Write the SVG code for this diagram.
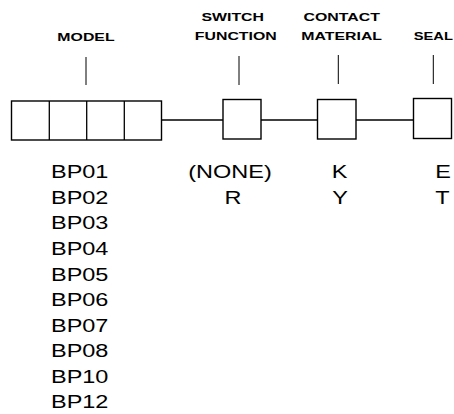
<svg xmlns="http://www.w3.org/2000/svg" width="454" height="414" viewBox="0 0 454 414">
<style>
.box{fill:#fff;stroke:#000;stroke-width:1.4}
.ln{stroke:#000;stroke-width:1.3;fill:none}
.tk{stroke:#000;stroke-width:1}
.hd{font-family:"Liberation Sans",Arial,sans-serif;font-weight:bold;font-size:11.5px;text-anchor:middle;fill:#000}
.vl{font-family:"Liberation Sans",Arial,sans-serif;font-size:18.5px;fill:#000}
.vm{text-anchor:middle}
</style>
<rect width="454" height="414" fill="#fff"/>
<g id="connectors">
<line class="ln" x1="161.5" y1="120" x2="223" y2="120"/>
<line class="ln" x1="261" y1="120" x2="317.5" y2="120"/>
<line class="ln" x1="356" y1="120" x2="413.5" y2="120"/>
<line class="tk" x1="86" y1="57" x2="86" y2="85"/>
<line class="tk" x1="239" y1="56" x2="239" y2="85"/>
<line class="tk" x1="338.3" y1="55" x2="338.3" y2="84"/>
<line class="tk" x1="433.3" y1="55" x2="433.3" y2="84"/>
</g>
<g id="model">
<rect class="box" x="11.5" y="101" width="150" height="39"/>
<line class="ln" x1="49.3" y1="101" x2="49.3" y2="140"/>
<line class="ln" x1="86.7" y1="101" x2="86.7" y2="140"/>
<line class="ln" x1="124.3" y1="101" x2="124.3" y2="140"/>
<text class="hd" transform="translate(86,40.5) scale(1.38,1)">MODEL</text>
<g class="vl">
<text transform="translate(51,178.3) scale(1.27,1)">BP01</text>
<text transform="translate(51,203.9) scale(1.27,1)">BP02</text>
<text transform="translate(51,229.4) scale(1.27,1)">BP03</text>
<text transform="translate(51,255) scale(1.27,1)">BP04</text>
<text transform="translate(51,280.5) scale(1.27,1)">BP05</text>
<text transform="translate(51,306.1) scale(1.27,1)">BP06</text>
<text transform="translate(51,331.7) scale(1.27,1)">BP07</text>
<text transform="translate(51,357.2) scale(1.27,1)">BP08</text>
<text transform="translate(51,382.8) scale(1.27,1)">BP10</text>
<text transform="translate(51,408.3) scale(1.27,1)">BP12</text>
</g>
</g>
<g id="switch-function">
<rect class="box" x="223" y="99.5" width="38" height="39.5"/>
<text class="hd" transform="translate(232.7,20.7) scale(1.38,1)">SWITCH</text>
<text class="hd" transform="translate(235.8,40) scale(1.38,1)">FUNCTION</text>
<text class="vl vm" transform="translate(230,178.3) scale(1.27,1)">(NONE)</text>
<text class="vl vm" transform="translate(233,203.9) scale(1.27,1)">R</text>
</g>
<g id="contact-material">
<rect class="box" x="317.5" y="99.5" width="38.5" height="39.5"/>
<text class="hd" transform="translate(341.7,20.7) scale(1.38,1)">CONTACT</text>
<text class="hd" transform="translate(341.7,40) scale(1.38,1)">MATERIAL</text>
<text class="vl vm" transform="translate(339.7,178.3) scale(1.27,1)">K</text>
<text class="vl vm" transform="translate(340,203.9) scale(1.27,1)">Y</text>
</g>
<g id="seal">
<rect class="box" x="413.5" y="98.5" width="38" height="40"/>
<text class="hd" transform="translate(433.3,40) scale(1.28,1)">SEAL</text>
<text class="vl vm" transform="translate(443,178.3) scale(1.27,1)">E</text>
<text class="vl vm" transform="translate(442.5,203.9) scale(1.27,1)">T</text>
</g>
</svg>
